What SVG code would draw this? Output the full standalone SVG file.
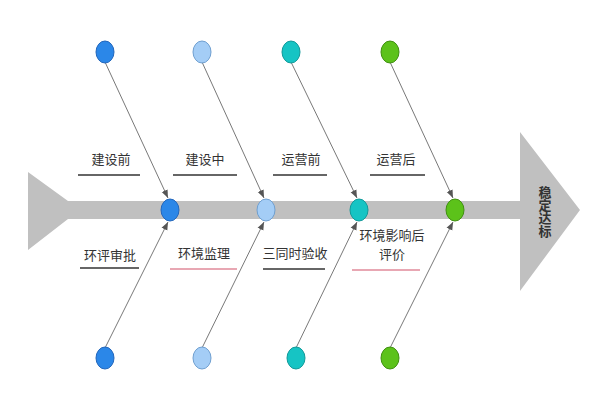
<svg xmlns="http://www.w3.org/2000/svg" width="600" height="400" viewBox="0 0 600 400">
<style>
text{font-family:"Noto Sans CJK SC","Liberation Sans",sans-serif;font-size:13px;fill:#333;text-anchor:middle}
.c{stroke:#555;stroke-width:0.8;fill:none;marker-end:url(#a)}
.u{stroke:#333;stroke-width:1.5}
.p{stroke:#e08a9a;stroke-width:1.5}
</style>
<defs><marker id="a" viewBox="0 0 10 10" refX="10" refY="5" markerWidth="8" markerHeight="8" orient="auto" markerUnits="userSpaceOnUse"><path d="M0,1 L10,5 L0,9 z" fill="#555"/></marker></defs>
<rect width="600" height="400" fill="#fff"/>
<g id="spine" fill="#c0c0c0">
<polygon points="28,172 68,201 520,201 520,132 580,210 520,291 520,219 68,219 28,250"/>
</g>
<text x="543" y="212" style="writing-mode:vertical-rl;font-weight:bold" dominant-baseline="middle">稳定达标</text>
<g id="connectors">
<line class="c" x1="105" y1="62" x2="168" y2="198"/>
<line class="c" x1="202" y1="62" x2="264" y2="198"/>
<line class="c" x1="291" y1="62" x2="357" y2="198"/>
<line class="c" x1="390" y1="62" x2="453" y2="198"/>
<line class="c" x1="105" y1="348" x2="168" y2="222"/>
<line class="c" x1="202" y1="348" x2="264" y2="222"/>
<line class="c" x1="296" y1="348" x2="357" y2="222"/>
<line class="c" x1="390" y1="348" x2="453" y2="222"/>
</g>
<g id="n1" fill="#2b87e8" stroke="#2266bb"><ellipse cx="170" cy="210" rx="9" ry="11"/><ellipse cx="105" cy="52" rx="9" ry="11"/><ellipse cx="105" cy="358" rx="9" ry="11"/></g>
<g id="n2" fill="#a4cdf6" stroke="#6f9fd0"><ellipse cx="266" cy="210" rx="9" ry="11"/><ellipse cx="202" cy="52" rx="9" ry="11"/><ellipse cx="202" cy="358" rx="9" ry="11"/></g>
<g id="n3" fill="#16c4c4" stroke="#119999"><ellipse cx="359" cy="210" rx="9" ry="11"/><ellipse cx="291" cy="52" rx="9" ry="11"/><ellipse cx="296" cy="358" rx="9" ry="11"/></g>
<g id="n4" fill="#5cc21a" stroke="#3f8f10"><ellipse cx="455" cy="210" rx="9" ry="11"/><ellipse cx="390" cy="52" rx="9" ry="11"/><ellipse cx="390" cy="358" rx="9" ry="11"/></g>
<g id="labels">
<text x="111" y="164">建设前</text><line class="u" x1="78" y1="175" x2="140" y2="175"/>
<text x="205" y="164">建设中</text><line class="u" x1="173" y1="175" x2="237" y2="175"/>
<text x="301" y="164">运营前</text><line class="u" x1="273" y1="175" x2="327" y2="175"/>
<text x="396" y="164">运营后</text><line class="u" x1="370" y1="175" x2="425" y2="175"/>
<text x="110" y="260">环评审批</text><line class="u" x1="80" y1="268" x2="139" y2="268"/>
<text x="204" y="258">环境监理</text><line class="p" x1="170" y1="269" x2="237" y2="269"/>
<text x="295" y="258">三同时验收</text><line class="u" x1="263" y1="269" x2="325" y2="269"/>
<text x="392" y="240">环境影响后</text><text x="392" y="259">评价</text><line class="p" x1="352" y1="270" x2="420" y2="270"/>
</g>
</svg>
